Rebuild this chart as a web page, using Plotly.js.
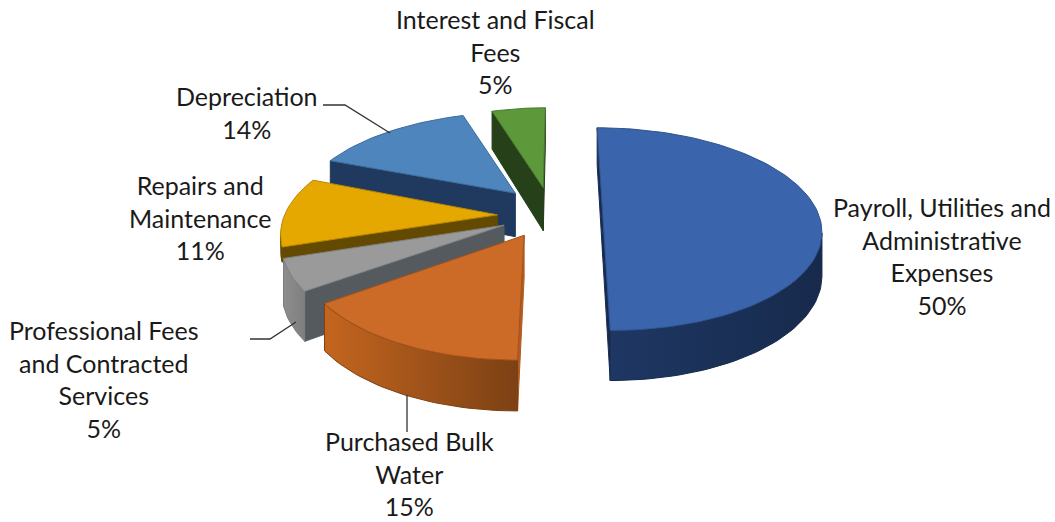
<!DOCTYPE html>
<html>
<head>
<meta charset="utf-8">
<script src="https://cdn.plot.ly/plotly-3.0.1.min.js"></script>
<style>html,body{margin:0;padding:0;background:#fff}#chart{width:1055px;height:522px}</style>
</head>
<body>
<div id="chart"></div>
<script>
// Expense shares, clockwise from twelve o'clock.
const categories = [
  "Payroll, Utilities and<br>Administrative<br>Expenses",
  "Purchased Bulk<br>Water",
  "Professional Fees<br>and Contracted<br>Services",
  "Repairs and<br>Maintenance",
  "Depreciation",
  "Interest and Fiscal<br>Fees"
];
const values = [50, 15, 5, 11, 14, 5];

// How far each slice is pulled out, plus a small extra offset on the ground plane.
const explode   = [0.27, 0.20, 0.20, 0.21, 0.29, 0.33];
const shiftX    = [-0.075, -0.068, -0.073, -0.076, -0.012, -0.028];
const shiftY    = [0.03, 0, 0.01, 0.015, 0.035, -0.02];
const radiusX   = [0.985, 0.975, 0.98, 0.97, 1, 0.93];
const wallScale = [0.95, 0.93, 1, 0.32, 1, 1];

// Slice styling.
const topColor  = ["#3A64AB", "#CC6A28", "#9A9A9A", "#E5A800", "#4E85BC", "#5D983A"];
const edgeColor = ["#2F5490", "#A5521C", "#808080", "#B98800", "#3C6C9E", "#4A7C2E"];
const sideColor = ["#172C50", "#B25C20", "#555A5E", "#644A00", "#1F3A5E", "#26401A"];
const arcColors = [["#1E3763", "#172A4C"], ["#C4651F", "#7C4114"], ["#8E8E8E", "#7E7E7E"],
                   ["#644A00", "#644A00"], ["#1F3A5E", "#1F3A5E"], ["#26401A", "#26401A"]];

// Label anchors and leader lines, in axis units.
const labelX = [942, 409, 104, 200, 247, 495];
const labelY = [255.5, 473, 378.5, 217.5, 112.5, 51.5];
const leaders = [
  {x: [323, 345, 390], y: [105, 105, 133]},
  {x: [250, 270, 296], y: [339, 339, 322]},
  {x: [407, 407], y: [395, 432]}
];

// Ground-plane projection of the tilted pie.
const view = {cx: 560, cy: 217, rx: 220, ry: 100, persp: 0.15, depth: 45};

function project(X, Y, scale) {
  const s = 1 / (1 + view.persp * Y);
  return {x: view.cx + view.rx * X * s, y: view.cy - view.ry * Y * s, d: view.depth * scale * s};
}

function wall(a, b) {
  return {
    x: a.map(p => p.x).concat(b.slice().reverse().map(p => p.x), [a[0].x]),
    y: a.map(p => p.y).concat(b.slice().reverse().map(p => p.y + p.d), [a[0].y])
  };
}

function poly(shape, fill, line, gradient) {
  const t = {
    type: "scatter", mode: "lines", x: shape.x, y: shape.y, fill: "toself",
    fillcolor: fill, line: {color: line, width: 1}, hoverinfo: "skip", showlegend: false
  };
  if (gradient) t.fillgradient = {type: "horizontal", colorscale: [[0, gradient[0]], [1, gradient[1]]]};
  return t;
}

const total = values.reduce((a, b) => a + b, 0);
const slices = [];
let running = 0;
values.forEach((v, i) => {
  const a0 = running / total * 2 * Math.PI;
  running += v;
  const a1 = running / total * 2 * Math.PI;
  const mid = (a0 + a1) / 2;
  const ox = explode[i] * Math.sin(mid) + shiftX[i];
  const oy = explode[i] * Math.cos(mid) + shiftY[i];
  const steps = Math.max(8, Math.round(v * 2));
  const arc = [];
  for (let k = 0; k <= steps; k++) {
    const a = a0 + (a1 - a0) * k / steps;
    arc.push(project(ox + radiusX[i] * Math.sin(a), oy + Math.cos(a), wallScale[i]));
  }
  slices.push({i, apex: project(ox, oy, wallScale[i]), arc});
});

const traces = [];
[5, 4, 3, 2, 1, 0].forEach(i => {
  const s = slices[i];
  const first = s.arc[0], last = s.arc[s.arc.length - 1];
  // A wall shows when walking the outline clockwise runs leftward on screen.
  if (first.x < s.apex.x) traces.push(poly(wall([s.apex, first], [s.apex, first]), sideColor[i], sideColor[i]));
  if (s.apex.x < last.x) traces.push(poly(wall([last, s.apex], [last, s.apex]), sideColor[i], sideColor[i]));
  const front = [];
  s.arc.forEach((p, k) => {
    const prev = s.arc[k - 1], next = s.arc[k + 1];
    if ((next && next.x < p.x) || (prev && p.x < prev.x)) front.push(p);
  });
  if (front.length > 1) {
    traces.push(poly(wall(front, front), arcColors[i][0], arcColors[i][1], arcColors[i]));
  }
  const outline = [s.apex].concat(s.arc, [s.apex]);
  traces.push(poly({x: outline.map(p => p.x), y: outline.map(p => p.y)}, topColor[i], edgeColor[i]));
});

leaders.forEach(l => traces.push({
  type: "scatter", mode: "lines", x: l.x, y: l.y,
  line: {color: "#333", width: 1.3}, hoverinfo: "skip", showlegend: false
}));

const annotations = categories.map((c, i) => ({
  x: labelX[i], y: labelY[i], xref: "x", yref: "y", showarrow: false, align: "center",
  text: c + "<br>" + Math.round(values[i] / total * 100) + "%",
  font: {family: "Lato, 'Noto Sans', sans-serif", size: 25, color: "#1a1a1a"}
}));

const layout = {
  width: 1055, height: 522, margin: {l: 0, r: 0, t: 0, b: 0},
  paper_bgcolor: "#fff", plot_bgcolor: "#fff", showlegend: false,
  xaxis: {range: [0, 1055], visible: false, fixedrange: true},
  yaxis: {range: [522, 0], visible: false, fixedrange: true},
  annotations
};
Plotly.newPlot("chart", traces, layout, {displayModeBar: false, staticPlot: true});
</script>
</body>
</html>
